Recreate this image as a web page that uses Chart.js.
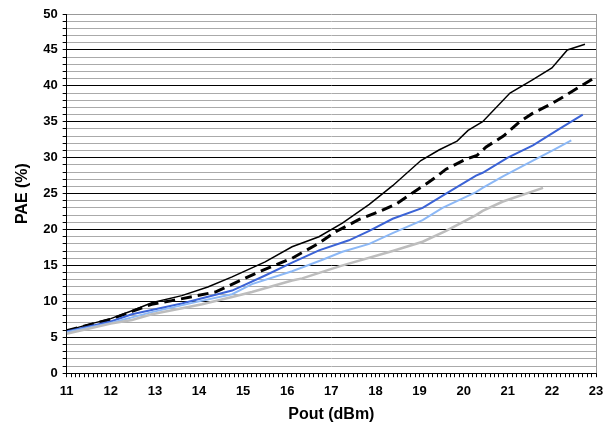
<!DOCTYPE html>
<html>
<head>
<meta charset="utf-8">
<script src="https://cdn.jsdelivr.net/npm/chart.js@4/dist/chart.umd.min.js"></script>
<style>
  body { margin: 0; background: #fff; }
  #graph { display: block; }
</style>
</head>
<body>
<canvas id="graph" width="610" height="425"></canvas>
<script>
// Pout (dBm) / PAE (%), one pair of arrays per curve
const blackX = [11.0, 11.5, 12.0, 12.48, 12.93, 13.61, 14.2, 14.75, 15.5, 16.11, 16.72, 17.25, 17.86, 18.39, 19.03, 19.45, 19.85, 20.1, 20.43, 21.05, 21.55, 22.0, 22.35, 22.75];
const blackY = [5.9, 6.8, 7.6, 8.7, 9.8, 10.8, 12.0, 13.4, 15.5, 17.6, 19.0, 20.9, 23.5, 26.1, 29.6, 31.1, 32.3, 33.8, 35.0, 39.0, 40.8, 42.5, 45.0, 45.8];

const dashX = [11.0, 12.0, 12.48, 12.93, 13.39, 14.37, 15.36, 16.11, 16.72, 17.1, 17.63, 18.08, 18.46, 18.84, 19.14, 19.37, 19.6, 20.05, 20.3, 20.51, 20.9, 21.27, 21.57, 22.02, 22.4, 22.93];
const dashY = [5.9, 7.5, 8.6, 9.6, 10.1, 11.3, 14.1, 16.0, 18.1, 19.7, 21.4, 22.5, 23.5, 25.1, 26.3, 27.3, 28.4, 29.8, 30.3, 31.5, 33.0, 35.0, 36.2, 37.6, 39.0, 41.0];

const blueX = [11.0, 12.0, 12.48, 13.61, 14.75, 15.5, 16.11, 16.72, 17.4, 17.86, 18.39, 19.07, 19.6, 20.28, 20.43, 21.0, 21.57, 22.17, 22.7];
const blueY = [5.8, 7.2, 8.2, 9.7, 11.5, 13.6, 15.4, 17.1, 18.5, 19.8, 21.5, 23.0, 25.0, 27.5, 27.9, 30.0, 31.7, 34.0, 36.0];

const lightX = [11.0, 12.0, 12.93, 14.0, 14.75, 15.2, 16.11, 16.8, 17.25, 17.86, 18.39, 19.07, 19.52, 20.28, 20.43, 20.89, 21.57, 22.04, 22.44];
const lightY = [5.7, 7.0, 8.5, 10.0, 11.0, 12.4, 14.2, 15.8, 16.9, 18.0, 19.5, 21.3, 23.0, 25.2, 25.8, 27.4, 29.6, 31.1, 32.4];

const grayX = [11.0, 12.0, 12.48, 12.93, 14.07, 14.75, 15.2, 16.11, 16.34, 17.2, 18.39, 19.07, 19.6, 20.28, 20.43, 20.89, 21.8];
const grayY = [5.5, 6.9, 7.4, 8.2, 9.6, 10.6, 11.3, 12.9, 13.2, 14.9, 17.0, 18.3, 19.8, 22.0, 22.6, 23.9, 25.8];

const xMin = 11, xMax = 23;
const yMin = 0, yMax = 50;

function pairs(xs, ys) {
  return xs.map((x, i) => ({x: x, y: ys[i]}));
}

function isWhole(v) {
  return Math.abs(v - Math.round(v)) < 1e-6;
}

// gray right edge of the plot frame
const frame = {
  id: 'frame',
  afterDraw(chart) {
    const a = chart.chartArea;
    const c = chart.ctx;
    c.save();
    c.strokeStyle = '#999';
    c.lineWidth = 1;
    c.beginPath();
    c.moveTo(Math.round(a.right) + 0.5, a.top);
    c.lineTo(Math.round(a.right) + 0.5, a.bottom);
    c.stroke();
    c.restore();
  }
};

const tickFont = {family: 'Liberation Sans, Arial, sans-serif', size: 13, weight: 'bold'};
const titleFont = {family: 'Liberation Sans, Arial, sans-serif', size: 16, weight: 'bold'};

new Chart(document.getElementById('graph'), {
  type: 'line',
  data: {
    datasets: [
      {data: pairs(grayX, grayY), borderColor: '#bdbdbd', borderWidth: 2.5},
      {data: pairs(lightX, lightY), borderColor: '#8cb8f6', borderWidth: 2},
      {data: pairs(blueX, blueY), borderColor: '#3b63d6', borderWidth: 2},
      {data: pairs(dashX, dashY), borderColor: '#000', borderWidth: 3, borderDash: [11, 6]},
      {data: pairs(blackX, blackY), borderColor: '#000', borderWidth: 1.5}
    ]
  },
  options: {
    responsive: false,
    animation: false,
    layout: {padding: {left: 13, right: 14, top: 14, bottom: 1}},
    elements: {point: {radius: 0}, line: {tension: 0, fill: false}},
    plugins: {legend: {display: false}, tooltip: {enabled: false}},
    scales: {
      x: {
        type: 'linear',
        min: xMin,
        max: xMax,
        border: {color: '#000', width: 1},
        grid: {drawOnChartArea: false, drawTicks: true, tickLength: 4, tickColor: '#000'},
        ticks: {
          stepSize: 0.1,
          autoSkip: false,
          maxRotation: 0,
          padding: 6,
          color: '#000',
          font: tickFont,
          callback: v => isWhole(v) ? String(Math.round(v)) : ''
        },
        title: {display: true, text: 'Pout (dBm)', color: '#000', font: titleFont, padding: {top: 0, bottom: 0}}
      },
      y: {
        min: yMin,
        max: yMax,
        border: {color: '#000', width: 1},
        grid: {
          tickLength: 4,
          tickColor: '#000',
          lineWidth: 1,
          color: ctx => {
            const v = ctx.tick.value;
            if (v === yMax) return '#999';
            return isWhole(v / 5) ? '#000' : '#aaa';
          }
        },
        ticks: {
          stepSize: 1,
          autoSkip: false,
          padding: 5,
          color: '#000',
          font: tickFont,
          callback: v => isWhole(v / 5) ? String(v) : ''
        },
        title: {display: true, text: 'PAE (%)', color: '#000', font: titleFont, padding: {top: 0, bottom: 6}}
      }
    }
  },
  plugins: [frame]
});
</script>
</body>
</html>
